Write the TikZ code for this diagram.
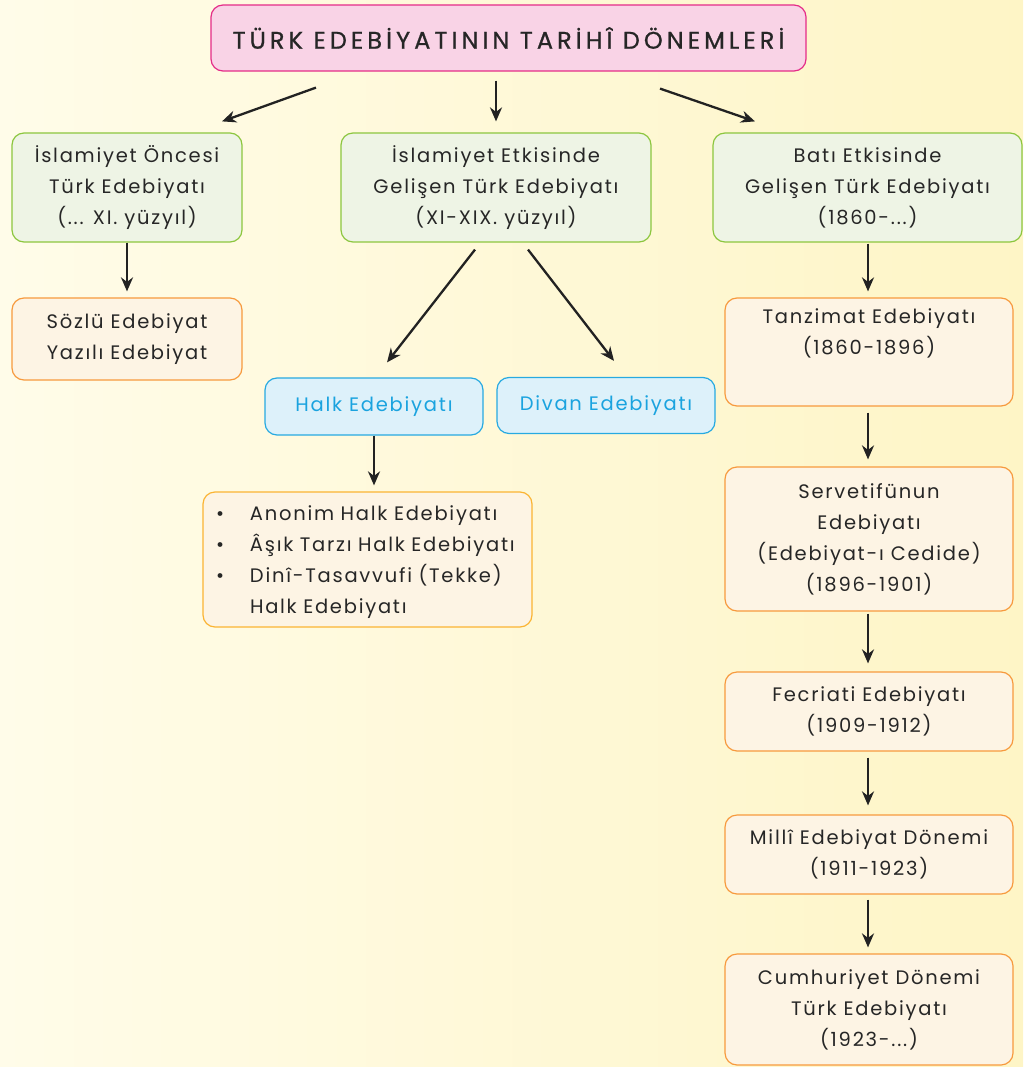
\documentclass[tikz,border=0pt]{standalone}
\usepackage{fontspec}
\setmainfont{Poppins}[LetterSpace=9]
\newfontfamily\titlefont{Poppins}[LetterSpace=17,FakeBold=0.8]
\usetikzlibrary{arrows.meta,calc}
\definecolor{bgL}{HTML}{FFFCE9}
\definecolor{bgR}{HTML}{FEF5C6}
\definecolor{txt}{HTML}{262626}
\definecolor{pinkF}{HTML}{F9D3E6}
\definecolor{pinkB}{HTML}{E42C88}
\definecolor{greenF}{HTML}{EEF4E5}
\definecolor{greenB}{HTML}{8CC63F}
\definecolor{orF}{HTML}{FDF4E4}
\definecolor{orB}{HTML}{F79A3E}
\definecolor{yeB}{HTML}{FBB433}
\definecolor{blF}{HTML}{DDF1FA}
\definecolor{blB}{HTML}{27AAE1}
\definecolor{blT}{HTML}{1AA3DF}
\definecolor{arrC}{HTML}{222222}
\tikzset{
  box/.style={rounded corners=12pt, line width=1.2pt, align=center, inner sep=0pt,
    text=txt, font=\fontsize{19.5}{31}\selectfont},
  gbox/.style={box, draw=greenB, fill=greenF},
  obox/.style={box, draw=orB, fill=orF},
  bbox/.style={box, draw=blB, fill=blF, text=blT},
  arr/.style={line width=2.3pt, draw=arrC, -{Stealth[length=14pt,width=12pt]}}
}
\begin{document}
\begin{tikzpicture}[x=1pt,y=-1pt]
\shade[left color=bgL, right color=bgR] (0,0) rectangle (1023,1067);
\useasboundingbox (0,0) rectangle (1023,1067);

\node[box, draw=pinkB, fill=pinkF, minimum width=595pt, minimum height=66pt,
  font=\titlefont\fontsize{24}{30}\selectfont] (title) at (508.5,38) {TÜRK EDEBİYATININ TARİHÎ DÖNEMLERİ};

\node[gbox, minimum width=230pt, minimum height=109pt] (b1) at (127,187.5)
  {İslamiyet Öncesi\\Türk Edebiyatı\\(... XI. yüzyıl)};
\node[gbox, minimum width=310pt, minimum height=109pt] (b2) at (496,187.5)
  {İslamiyet Etkisinde\\Gelişen Türk Edebiyatı\\(XI-XIX. yüzyıl)};
\node[gbox, minimum width=309pt, minimum height=109pt] (b3) at (867.5,187.5)
  {Batı Etkisinde\\Gelişen Türk Edebiyatı\\(1860-...)};

\node[obox, minimum width=230pt, minimum height=82pt] (sozlu) at (127,339)
  {Sözlü Edebiyat\\Yazılı Edebiyat};

\node[bbox, minimum width=218pt, minimum height=57pt] (halk) at (374,406.5) {Halk Edebiyatı};
\node[bbox, minimum width=218pt, minimum height=56pt] (divan) at (606,405.5) {Divan Edebiyatı};

\node[box, draw=yeB, fill=orF, text width=329pt, minimum height=135pt, align=left] (liste) at (367.5,559.5)
  {\rule{0pt}{10pt}\\[-20pt]
   \hspace*{13pt}\makebox[34pt][l]{\textbullet}Anonim Halk Edebiyatı\\
   \hspace*{13pt}\makebox[34pt][l]{\textbullet}Âşık Tarzı Halk Edebiyatı\\
   \hspace*{13pt}\makebox[34pt][l]{\textbullet}Dinî-Tasavvufi (Tekke)\\
   \hspace*{47pt}Halk Edebiyatı};

\node[obox, minimum width=288pt, minimum height=108pt] (tanz) at (869,352)
  {Tanzimat Edebiyatı\\(1860-1896)\\\strut};
\node[obox, minimum width=288pt, minimum height=144pt] (serv) at (869,539)
  {Servetifünun\\Edebiyatı\\(Edebiyat-ı Cedide)\\(1896-1901)};
\node[obox, minimum width=288pt, minimum height=79pt] (fecr) at (869,711.5)
  {Fecriati Edebiyatı\\(1909-1912)};
\node[obox, minimum width=288pt, minimum height=79pt] (milli) at (869,854.5)
  {Millî Edebiyat Dönemi\\(1911-1923)};
\node[obox, minimum width=288pt, minimum height=111pt] (cumh) at (869,1009.5)
  {Cumhuriyet Dönemi\\Türk Edebiyatı\\(1923-...)};

\draw[arr] ($(title.south)+(-192.5,16)$) -- ($(b1.north)+(95,-11)$);
\draw[arr] ($(title.south)+(-12.5,9)$) -- ($(b2.north)+(0,-11)$);
\draw[arr] ($(title.south)+(151.5,17)$) -- ($(b3.north)+(-112.5,-11)$);
\draw[arr] (b1.south) -- ($(sozlu.north)+(0,-6)$);
\draw[arr] ($(b2.south)+(-21,7)$) -- ($(halk.north)+(13,-15)$);
\draw[arr] ($(b2.south)+(32,7)$) -- ($(divan.north)+(8,-16)$);
\draw[arr] (halk.south) -- ($(liste.north)+(6.5,-6)$);
\draw[arr] ($(b3.south)+(0.5,1)$) -- ($(tanz.north)+(-1,-6)$);
\draw[arr] ($(tanz.south)+(-1,6)$) -- ($(serv.north)+(-1,-7)$);
\draw[arr] ($(serv.south)+(-1,2)$) -- ($(fecr.north)+(-1,-8)$);
\draw[arr] ($(fecr.south)+(-1,6)$) -- ($(milli.north)+(-1,-9)$);
\draw[arr] ($(milli.south)+(-1,5)$) -- ($(cumh.north)+(-1,-6)$);
\end{tikzpicture}
\end{document}
